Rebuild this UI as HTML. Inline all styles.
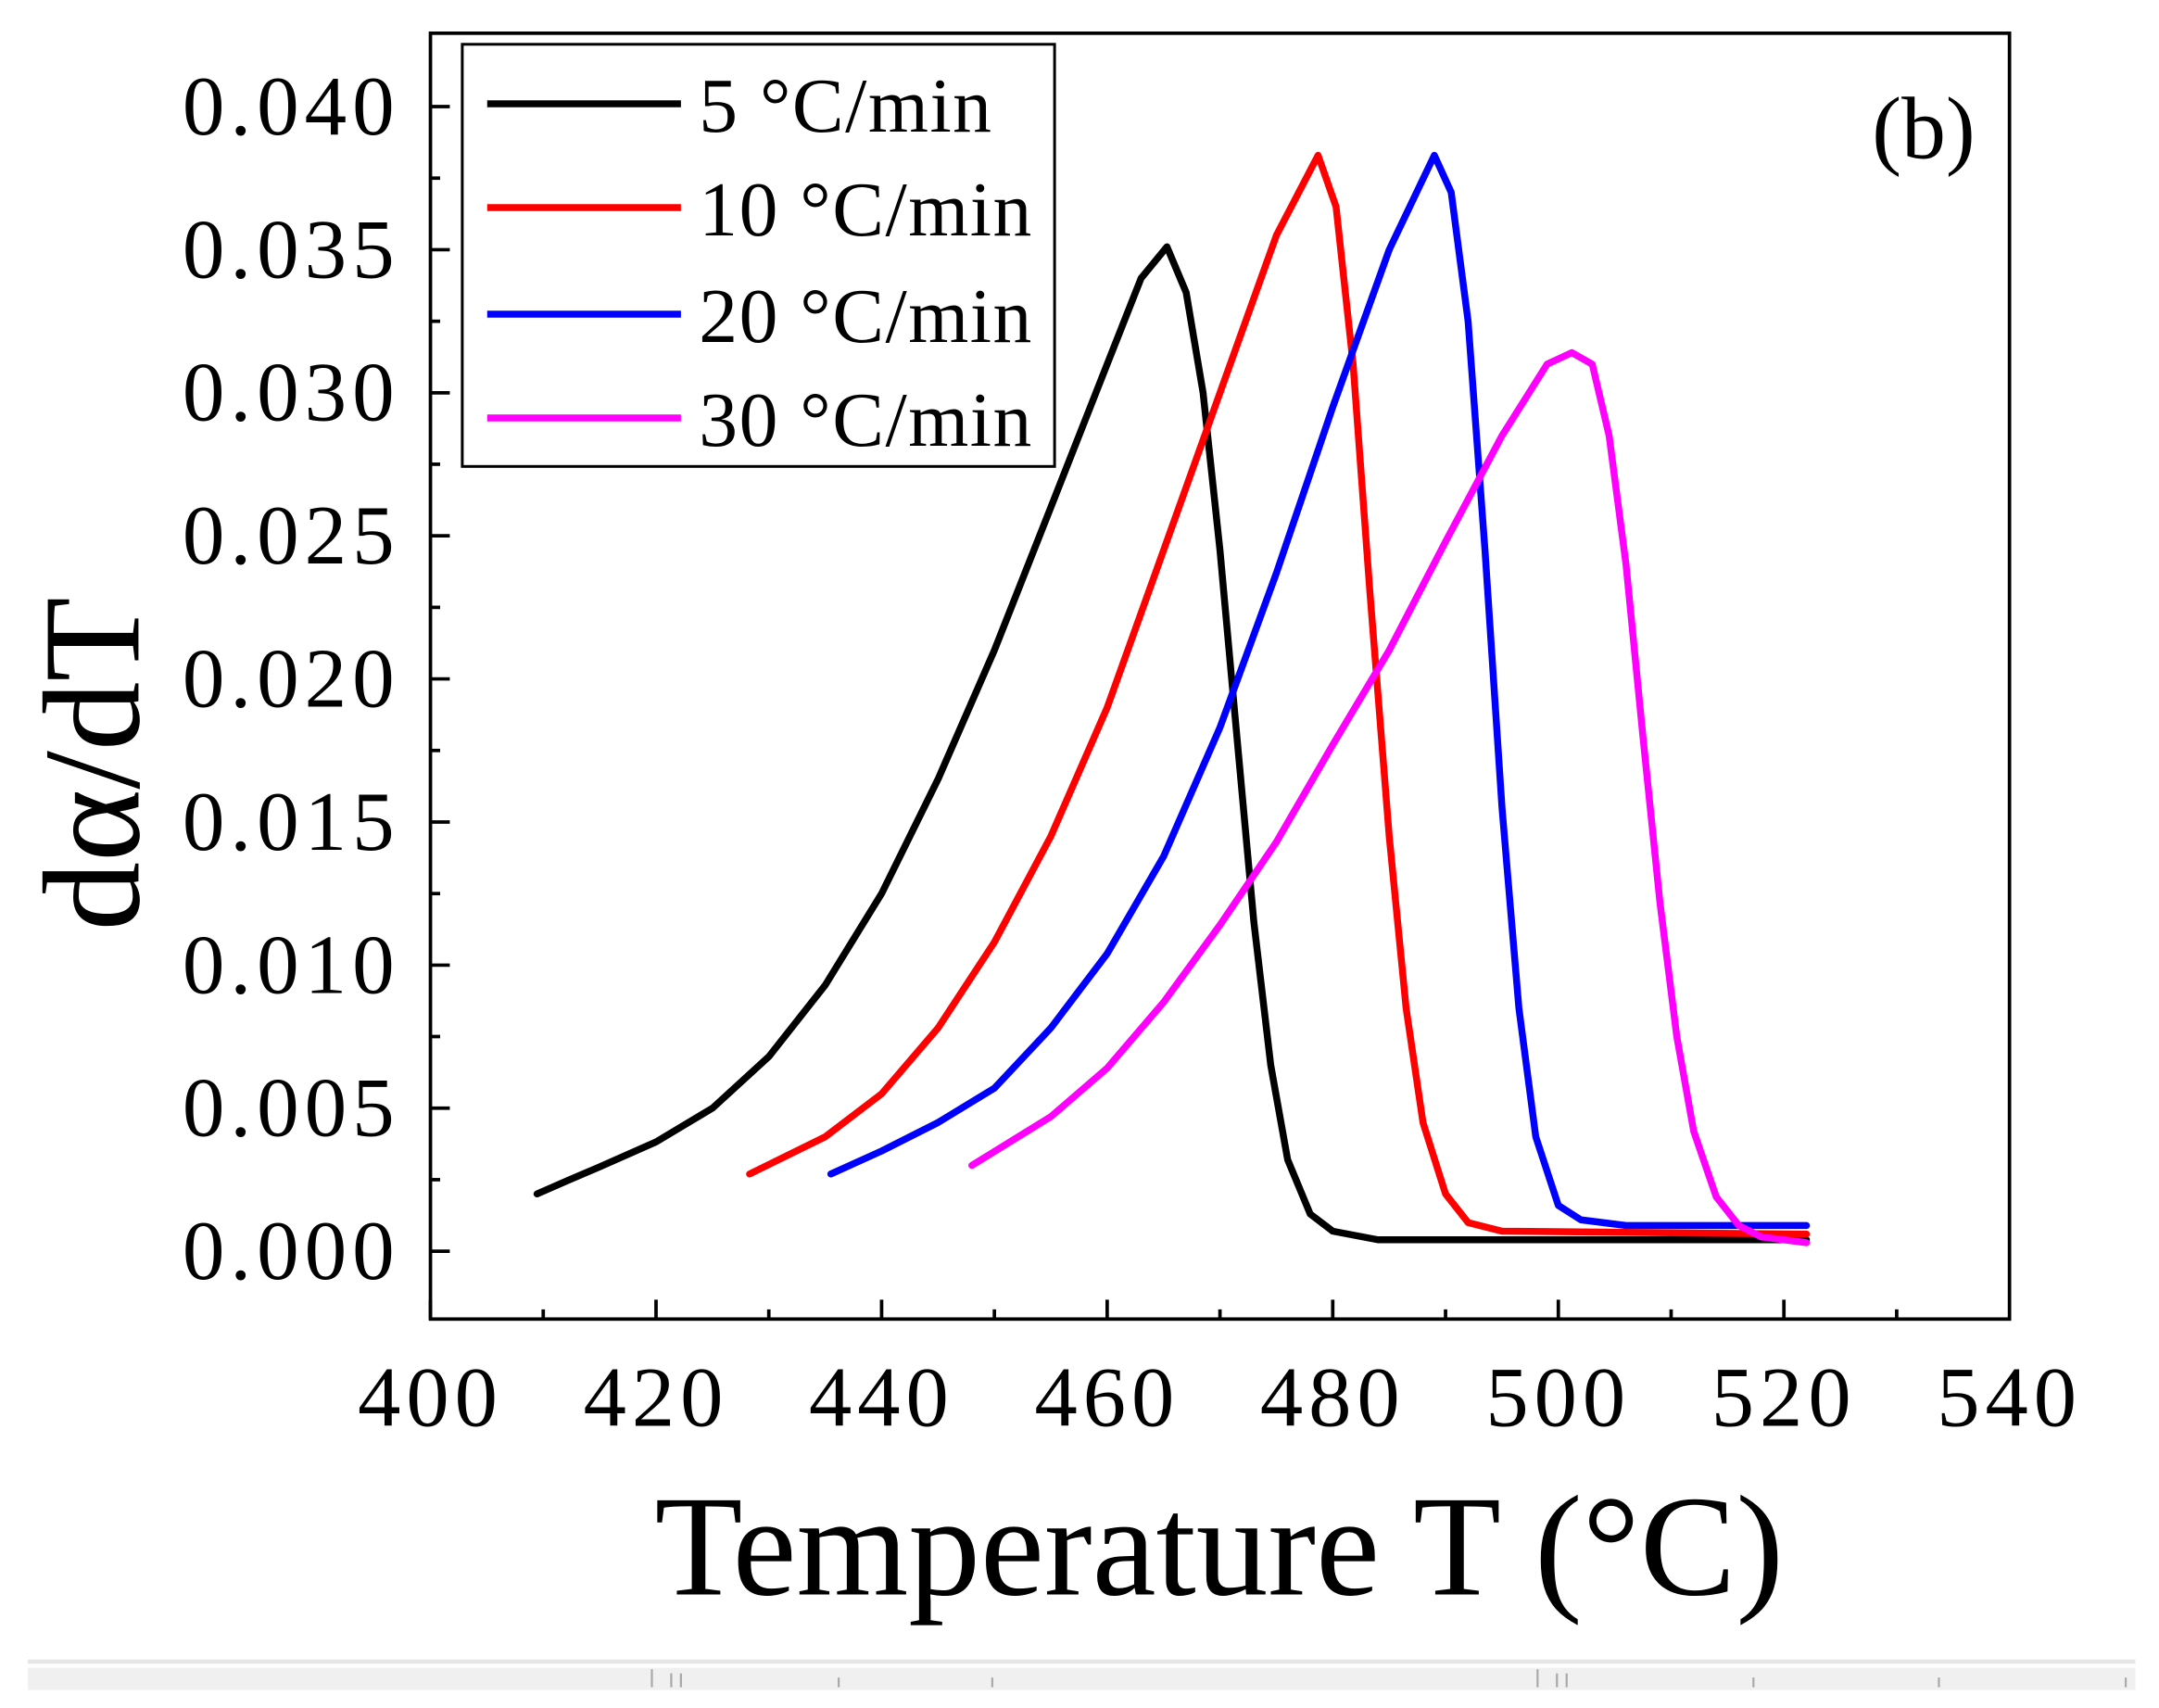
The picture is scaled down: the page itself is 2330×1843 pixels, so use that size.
<!DOCTYPE html>
<html><head><meta charset="utf-8"><style>html,body{margin:0;padding:0;background:#fff}svg{display:block}</style></head>
<body>
<svg width="2330" height="1843" viewBox="0 0 1560 1234" xmlns="http://www.w3.org/2000/svg" font-family="'Liberation Serif', serif">
<rect width="1560" height="1234" fill="#fff"/>
<rect x="20" y="1199" width="1523" height="3" fill="#e6e6e6"/>
<rect x="20" y="1205" width="1523" height="16" fill="#f0f0f0"/>
<g stroke="#aaa" stroke-width="1.5"><line x1="471" y1="1206" x2="471" y2="1219"/><line x1="485" y1="1209" x2="485" y2="1219"/><line x1="492" y1="1209" x2="492" y2="1219"/><line x1="1111" y1="1206" x2="1111" y2="1219"/><line x1="1125" y1="1209" x2="1125" y2="1219"/><line x1="1132" y1="1209" x2="1132" y2="1219"/><line x1="606" y1="1212" x2="606" y2="1219"/><line x1="717" y1="1212" x2="717" y2="1219"/><line x1="1267" y1="1212" x2="1267" y2="1219"/><line x1="1401" y1="1212" x2="1401" y2="1219"/><line x1="1536" y1="1212" x2="1536" y2="1219"/></g>
<rect x="311" y="24" width="1141" height="929" fill="none" stroke="#000" stroke-width="2.5"/>
<g stroke="#000" stroke-width="2.5">
<line x1="311" y1="953" x2="311" y2="939"/><line x1="392.5" y1="953" x2="392.5" y2="946"/><line x1="474" y1="953" x2="474" y2="939"/><line x1="555.5" y1="953" x2="555.5" y2="946"/><line x1="637" y1="953" x2="637" y2="939"/><line x1="718.5" y1="953" x2="718.5" y2="946"/><line x1="800" y1="953" x2="800" y2="939"/><line x1="881.5" y1="953" x2="881.5" y2="946"/><line x1="963" y1="953" x2="963" y2="939"/><line x1="1044.5" y1="953" x2="1044.5" y2="946"/><line x1="1126" y1="953" x2="1126" y2="939"/><line x1="1207.5" y1="953" x2="1207.5" y2="946"/><line x1="1289" y1="953" x2="1289" y2="939"/><line x1="1370.5" y1="953" x2="1370.5" y2="946"/>
<line x1="311" y1="904" x2="325" y2="904"/><line x1="311" y1="852.3" x2="318" y2="852.3"/><line x1="311" y1="800.6" x2="325" y2="800.6"/><line x1="311" y1="748.9" x2="318" y2="748.9"/><line x1="311" y1="697.3" x2="325" y2="697.3"/><line x1="311" y1="645.6" x2="318" y2="645.6"/><line x1="311" y1="593.9" x2="325" y2="593.9"/><line x1="311" y1="542.2" x2="318" y2="542.2"/><line x1="311" y1="490.5" x2="325" y2="490.5"/><line x1="311" y1="438.8" x2="318" y2="438.8"/><line x1="311" y1="387.1" x2="325" y2="387.1"/><line x1="311" y1="335.4" x2="318" y2="335.4"/><line x1="311" y1="283.8" x2="325" y2="283.8"/><line x1="311" y1="232.1" x2="318" y2="232.1"/><line x1="311" y1="180.4" x2="325" y2="180.4"/><line x1="311" y1="128.7" x2="318" y2="128.7"/><line x1="311" y1="77" x2="325" y2="77"/>
</g>
<g fill="none" stroke-width="5" stroke-linejoin="round" stroke-linecap="round">
<polyline stroke="#000" points="388,862.6 410,853 433.3,843 474,825 514.8,800.6 555.5,763.4 596.3,711.7 637,645.6 677.8,562.9 718.5,469.8 759.3,366.5 800,263.1 824.5,201 843.2,178.3 857.1,211.4 869.3,283.8 881.5,397.5 893.7,531.8 906,666.2 918.2,769.6 930.4,837.8 946.7,877.1 963,889.5 995.6,895.7 1305.3,895.7"/>
<polyline stroke="#f00" points="541.6,848.2 596.3,821.3 637,790.3 677.8,742.7 718.5,680.7 759.3,604.2 800,511.2 840.8,397.5 881.5,283.8 922.3,170 952.4,112.2 965.4,149.4 977.7,263.1 989.9,428.5 1003.8,604.2 1016,728.3 1028.2,811 1044.5,862.6 1060.8,883.3 1085.3,889.5 1305.3,891.6"/>
<polyline stroke="#00f" points="600.3,848.2 637,831.6 677.8,811 718.5,786.2 759.3,742.7 800,689 840.8,618.7 881.5,525.6 922.3,414 963,294.1 1003.8,180.4 1036.4,112.2 1048.6,139 1060.8,232.1 1073,397.5 1085.3,583.5 1097.5,728.3 1109.7,821.3 1126,870.9 1142.3,881.3 1174.9,885.4 1305.3,885.4"/>
<polyline stroke="#f0f" points="702.2,842 759.3,806.8 800,771.7 840.8,724.1 881.5,668.3 922.3,608.3 963,538.1 1003.8,469.8 1044.5,391.3 1085.3,314.8 1117.9,263.1 1135.8,254.8 1150.5,263.1 1162.7,314.8 1174.9,407.8 1187.1,531.8 1199.4,651.8 1211.6,748.9 1223.8,817.2 1240.1,864.7 1256.4,885.4 1272.7,893.7 1305.3,897.8"/>
</g>
<g font-size="61" fill="#000" text-anchor="end" letter-spacing="4">
<text x="289" y="924">0.000</text><text x="289" y="820.6">0.005</text><text x="289" y="717.3">0.010</text><text x="289" y="613.9">0.015</text><text x="289" y="510.5">0.020</text><text x="289" y="407.1">0.025</text><text x="289" y="303.8">0.030</text><text x="289" y="200.4">0.035</text><text x="289" y="97">0.040</text>
</g>
<g font-size="62" fill="#000" text-anchor="middle" letter-spacing="4">
<text x="311" y="1030">400</text><text x="474" y="1030">420</text><text x="637" y="1030">440</text><text x="800" y="1030">460</text><text x="963" y="1030">480</text><text x="1126" y="1030">500</text><text x="1289" y="1030">520</text><text x="1452" y="1030">540</text>
</g>
<text x="881" y="1152" font-size="104" text-anchor="middle">Temperature T (°C)</text>
<text transform="translate(100,552) rotate(-90)" font-size="100" text-anchor="middle">dα/dT</text>
<text x="1390" y="114" font-size="64" text-anchor="middle">(b)</text>
<rect x="334" y="32" width="428" height="305" fill="#fff" stroke="#000" stroke-width="2"/>
<g stroke-width="5"><line x1="352" y1="75" x2="492" y2="75" stroke="#000"/><line x1="352" y1="150" x2="492" y2="150" stroke="#f00"/><line x1="352" y1="227" x2="492" y2="227" stroke="#00f"/><line x1="352" y1="302" x2="492" y2="302" stroke="#f0f"/></g>
<g font-size="56" fill="#000" letter-spacing="1"><text x="505" y="95">5 °C/min</text><text x="505" y="170">10 °C/min</text><text x="505" y="247">20 °C/min</text><text x="505" y="322">30 °C/min</text></g>
</svg>
</body></html>
